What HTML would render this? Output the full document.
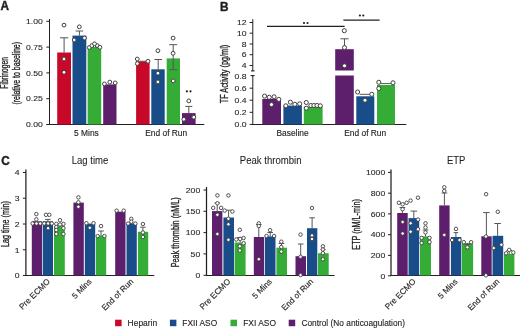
<!DOCTYPE html>
<html><head><meta charset="utf-8"><style>
html,body{margin:0;padding:0;background:#fff;}
body{width:520px;height:328px;overflow:hidden;}
svg{display:block;font-family:"Liberation Sans", sans-serif;will-change:transform;}
text{stroke:#231F20;stroke-width:0.14px;paint-order:stroke;}
</style></head><body>
<svg width="520" height="328" viewBox="0 0 520 328">
<rect width="520" height="328" fill="#fff"/>
<text font-size="11.8" font-weight="bold" transform="translate(0.60 10.40) scale(1.0 1.05)" fill="#231F20" style="stroke-width:0.4px">A</text>
<line x1="49.50" y1="19.00" x2="49.50" y2="125.00" stroke="#231F20" stroke-width="1"/>
<line x1="49.00" y1="124.50" x2="204.30" y2="124.50" stroke="#231F20" stroke-width="1"/>
<line x1="46.30" y1="21.30" x2="49.50" y2="21.30" stroke="#231F20" stroke-width="1"/>
<text font-size="8.0" text-anchor="end" transform="translate(42.80 24.05) scale(1.08 1.0)" fill="#231F20" style="stroke-width:0.1px">1.00</text>
<line x1="46.30" y1="47.10" x2="49.50" y2="47.10" stroke="#231F20" stroke-width="1"/>
<text font-size="8.0" text-anchor="end" transform="translate(42.80 49.85) scale(1.08 1.0)" fill="#231F20" style="stroke-width:0.1px">0.75</text>
<line x1="46.30" y1="72.90" x2="49.50" y2="72.90" stroke="#231F20" stroke-width="1"/>
<text font-size="8.0" text-anchor="end" transform="translate(42.80 75.65) scale(1.08 1.0)" fill="#231F20" style="stroke-width:0.1px">0.50</text>
<line x1="46.30" y1="98.70" x2="49.50" y2="98.70" stroke="#231F20" stroke-width="1"/>
<text font-size="8.0" text-anchor="end" transform="translate(42.80 101.45) scale(1.08 1.0)" fill="#231F20" style="stroke-width:0.1px">0.25</text>
<line x1="46.30" y1="124.50" x2="49.50" y2="124.50" stroke="#231F20" stroke-width="1"/>
<text font-size="8.0" text-anchor="end" transform="translate(42.80 127.25) scale(1.08 1.0)" fill="#231F20" style="stroke-width:0.1px">0.00</text>
<text font-size="9.3" text-anchor="middle" textLength="31.5" lengthAdjust="spacingAndGlyphs" transform="translate(8.30 72.90) rotate(-90) scale(1.0 1.12)" fill="#231F20" style="stroke-width:0.3px">Fibrinogen</text>
<text font-size="9.3" text-anchor="middle" textLength="62.5" lengthAdjust="spacingAndGlyphs" transform="translate(19.70 73.30) rotate(-90) scale(1.0 1.12)" fill="#231F20" style="stroke-width:0.3px">(relative to baseline)</text>
<rect x="57.20" y="52.50" width="13.80" height="72.00" fill="#C70829"/>
<rect x="72.50" y="35.60" width="13.80" height="88.90" fill="#184D89"/>
<rect x="87.60" y="47.00" width="13.60" height="77.50" fill="#35AC35"/>
<rect x="103.20" y="84.40" width="13.30" height="40.10" fill="#5D1F6B"/>
<rect x="136.10" y="61.30" width="13.50" height="63.20" fill="#C70829"/>
<rect x="151.30" y="69.30" width="13.40" height="55.20" fill="#184D89"/>
<rect x="166.70" y="58.40" width="13.30" height="66.10" fill="#35AC35"/>
<rect x="182.00" y="113.10" width="13.60" height="11.40" fill="#5D1F6B"/>
<line x1="64.10" y1="37.80" x2="64.10" y2="52.50" stroke="#555555" stroke-width="1.0"/>
<line x1="60.00" y1="37.80" x2="68.20" y2="37.80" stroke="#555555" stroke-width="1.0"/>
<line x1="79.40" y1="31.00" x2="79.40" y2="35.60" stroke="#555555" stroke-width="1.0"/>
<line x1="75.60" y1="31.00" x2="83.20" y2="31.00" stroke="#555555" stroke-width="1.0"/>
<line x1="158.20" y1="59.50" x2="158.20" y2="69.30" stroke="#555555" stroke-width="1.0"/>
<line x1="154.40" y1="59.50" x2="162.00" y2="59.50" stroke="#555555" stroke-width="1.0"/>
<line x1="139.50" y1="61.20" x2="146.20" y2="61.20" stroke="#555555" stroke-width="0.9"/>
<line x1="173.20" y1="44.70" x2="173.20" y2="69.70" stroke="#555555" stroke-width="1.0"/>
<line x1="169.20" y1="44.70" x2="177.20" y2="44.70" stroke="#555555" stroke-width="1.0"/>
<line x1="169.20" y1="69.70" x2="177.20" y2="69.70" stroke="#555555" stroke-width="1.0"/>
<line x1="188.80" y1="106.40" x2="188.80" y2="113.10" stroke="#555555" stroke-width="1.0"/>
<line x1="185.30" y1="106.40" x2="192.30" y2="106.40" stroke="#555555" stroke-width="1.0"/>
<circle cx="64.00" cy="25.10" r="1.9" fill="#fff" stroke="#404040" stroke-width="1.0"/>
<circle cx="64.00" cy="59.00" r="1.9" fill="#fff" stroke="#404040" stroke-width="1.0"/>
<circle cx="64.00" cy="72.30" r="1.9" fill="#fff" stroke="#404040" stroke-width="1.0"/>
<circle cx="79.30" cy="26.80" r="1.9" fill="#fff" stroke="#404040" stroke-width="1.0"/>
<circle cx="74.20" cy="40.00" r="1.9" fill="#fff" stroke="#404040" stroke-width="1.0"/>
<circle cx="84.50" cy="38.00" r="1.9" fill="#fff" stroke="#404040" stroke-width="1.0"/>
<circle cx="89.30" cy="47.50" r="1.9" fill="#fff" stroke="#404040" stroke-width="1.0"/>
<circle cx="91.90" cy="45.60" r="1.9" fill="#fff" stroke="#404040" stroke-width="1.0"/>
<circle cx="97.20" cy="45.60" r="1.9" fill="#fff" stroke="#404040" stroke-width="1.0"/>
<circle cx="94.50" cy="43.80" r="1.9" fill="#fff" stroke="#404040" stroke-width="1.0"/>
<circle cx="99.90" cy="47.30" r="1.9" fill="#fff" stroke="#404040" stroke-width="1.0"/>
<circle cx="104.40" cy="83.90" r="1.9" fill="#fff" stroke="#404040" stroke-width="1.0"/>
<circle cx="109.80" cy="82.10" r="1.9" fill="#fff" stroke="#404040" stroke-width="1.0"/>
<circle cx="115.20" cy="82.90" r="1.9" fill="#fff" stroke="#404040" stroke-width="1.0"/>
<circle cx="137.30" cy="59.00" r="1.9" fill="#fff" stroke="#404040" stroke-width="1.0"/>
<circle cx="137.30" cy="63.60" r="1.9" fill="#fff" stroke="#404040" stroke-width="1.0"/>
<circle cx="148.00" cy="61.30" r="1.9" fill="#fff" stroke="#404040" stroke-width="1.0"/>
<circle cx="157.90" cy="50.70" r="1.9" fill="#fff" stroke="#404040" stroke-width="1.0"/>
<circle cx="157.90" cy="73.20" r="1.9" fill="#fff" stroke="#404040" stroke-width="1.0"/>
<circle cx="157.90" cy="81.90" r="1.9" fill="#fff" stroke="#404040" stroke-width="1.0"/>
<circle cx="173.10" cy="38.10" r="1.9" fill="#fff" stroke="#404040" stroke-width="1.0"/>
<circle cx="173.10" cy="53.30" r="1.9" fill="#fff" stroke="#404040" stroke-width="1.0"/>
<circle cx="173.20" cy="80.90" r="1.9" fill="#fff" stroke="#404040" stroke-width="1.0"/>
<circle cx="188.80" cy="100.90" r="1.9" fill="#fff" stroke="#404040" stroke-width="1.0"/>
<circle cx="183.80" cy="119.30" r="1.9" fill="#fff" stroke="#404040" stroke-width="1.0"/>
<circle cx="193.80" cy="117.20" r="1.9" fill="#fff" stroke="#404040" stroke-width="1.0"/>
<circle cx="186.90" cy="91.30" r="1.1" fill="#231F20"/>
<circle cx="190.50" cy="91.30" r="1.1" fill="#231F20"/>
<text font-size="8.4" text-anchor="middle" transform="translate(86.40 135.50) scale(1.0 1.06)" fill="#231F20">5 Mins</text>
<text font-size="8.4" text-anchor="middle" transform="translate(166.20 135.50) scale(1.0 1.06)" fill="#231F20">End of Run</text>
<text font-size="11.8" font-weight="bold" transform="translate(220.00 10.60) scale(1.0 1.05)" fill="#231F20" style="stroke-width:0.4px">B</text>
<line x1="252.80" y1="19.20" x2="252.80" y2="71.00" stroke="#231F20" stroke-width="1"/>
<line x1="251.00" y1="70.90" x2="254.60" y2="70.90" stroke="#231F20" stroke-width="1.1"/>
<line x1="252.80" y1="75.30" x2="252.80" y2="125.00" stroke="#231F20" stroke-width="1"/>
<line x1="250.60" y1="75.60" x2="254.60" y2="75.60" stroke="#231F20" stroke-width="1.1"/>
<line x1="252.30" y1="124.50" x2="406.30" y2="124.50" stroke="#231F20" stroke-width="1"/>
<line x1="249.60" y1="22.50" x2="252.80" y2="22.50" stroke="#231F20" stroke-width="1"/>
<text font-size="8.0" text-anchor="end" transform="translate(246.60 25.25) scale(1.08 1.0)" fill="#231F20" style="stroke-width:0.1px">12</text>
<line x1="249.60" y1="33.20" x2="252.80" y2="33.20" stroke="#231F20" stroke-width="1"/>
<text font-size="8.0" text-anchor="end" transform="translate(246.60 35.95) scale(1.08 1.0)" fill="#231F20" style="stroke-width:0.1px">10</text>
<line x1="249.60" y1="44.00" x2="252.80" y2="44.00" stroke="#231F20" stroke-width="1"/>
<text font-size="8.0" text-anchor="end" transform="translate(246.60 46.75) scale(1.08 1.0)" fill="#231F20" style="stroke-width:0.1px">8</text>
<line x1="249.60" y1="54.70" x2="252.80" y2="54.70" stroke="#231F20" stroke-width="1"/>
<text font-size="8.0" text-anchor="end" transform="translate(246.60 57.45) scale(1.08 1.0)" fill="#231F20" style="stroke-width:0.1px">6</text>
<line x1="249.60" y1="65.50" x2="252.80" y2="65.50" stroke="#231F20" stroke-width="1"/>
<text font-size="8.0" text-anchor="end" transform="translate(246.60 68.25) scale(1.08 1.0)" fill="#231F20" style="stroke-width:0.1px">4</text>
<text font-size="8.0" text-anchor="end" transform="translate(246.60 78.85) scale(1.08 1.0)" fill="#231F20" style="stroke-width:0.1px">0.8</text>
<line x1="249.60" y1="88.20" x2="252.80" y2="88.20" stroke="#231F20" stroke-width="1"/>
<text font-size="8.0" text-anchor="end" transform="translate(246.60 90.95) scale(1.08 1.0)" fill="#231F20" style="stroke-width:0.1px">0.6</text>
<line x1="249.60" y1="100.20" x2="252.80" y2="100.20" stroke="#231F20" stroke-width="1"/>
<text font-size="8.0" text-anchor="end" transform="translate(246.60 102.95) scale(1.08 1.0)" fill="#231F20" style="stroke-width:0.1px">0.4</text>
<line x1="249.60" y1="112.30" x2="252.80" y2="112.30" stroke="#231F20" stroke-width="1"/>
<text font-size="8.0" text-anchor="end" transform="translate(246.60 115.05) scale(1.08 1.0)" fill="#231F20" style="stroke-width:0.1px">0.2</text>
<line x1="249.60" y1="124.40" x2="252.80" y2="124.40" stroke="#231F20" stroke-width="1"/>
<text font-size="8.0" text-anchor="end" transform="translate(246.60 127.15) scale(1.08 1.0)" fill="#231F20" style="stroke-width:0.1px">0.0</text>
<text font-size="9.3" text-anchor="middle" textLength="58.5" lengthAdjust="spacingAndGlyphs" transform="translate(228.30 74.00) rotate(-90) scale(1.0 1.12)" fill="#231F20" style="stroke-width:0.3px">TF Activity (pg/ml)</text>
<rect x="262.30" y="98.90" width="18.70" height="25.60" fill="#5D1F6B"/>
<rect x="283.40" y="105.60" width="18.50" height="18.90" fill="#184D89"/>
<rect x="303.80" y="106.80" width="18.80" height="17.70" fill="#35AC35"/>
<rect x="356.30" y="96.30" width="18.00" height="28.20" fill="#184D89"/>
<rect x="377.00" y="85.00" width="18.00" height="39.50" fill="#35AC35"/>
<rect x="335.20" y="49.20" width="18.60" height="21.30" fill="#5D1F6B"/>
<rect x="335.20" y="75.50" width="18.60" height="49.00" fill="#5D1F6B"/>
<line x1="344.50" y1="38.80" x2="344.50" y2="49.20" stroke="#555555" stroke-width="1.0"/>
<line x1="340.40" y1="38.80" x2="348.60" y2="38.80" stroke="#555555" stroke-width="1.0"/>
<line x1="359.60" y1="94.30" x2="370.50" y2="94.30" stroke="#555555" stroke-width="1.0"/>
<line x1="380.50" y1="83.60" x2="391.50" y2="83.60" stroke="#555555" stroke-width="1.0"/>
<circle cx="264.60" cy="96.10" r="2.05" fill="#fff" stroke="#404040" stroke-width="1.0"/>
<circle cx="269.20" cy="97.30" r="2.05" fill="#fff" stroke="#404040" stroke-width="1.0"/>
<circle cx="274.10" cy="96.80" r="2.05" fill="#fff" stroke="#404040" stroke-width="1.0"/>
<circle cx="278.80" cy="99.40" r="2.05" fill="#fff" stroke="#404040" stroke-width="1.0"/>
<circle cx="271.50" cy="104.60" r="2.05" fill="#fff" stroke="#404040" stroke-width="1.0"/>
<circle cx="285.80" cy="105.80" r="2.05" fill="#fff" stroke="#404040" stroke-width="1.0"/>
<circle cx="290.40" cy="102.20" r="2.05" fill="#fff" stroke="#404040" stroke-width="1.0"/>
<circle cx="294.80" cy="104.30" r="2.05" fill="#fff" stroke="#404040" stroke-width="1.0"/>
<circle cx="299.70" cy="103.80" r="2.05" fill="#fff" stroke="#404040" stroke-width="1.0"/>
<circle cx="306.30" cy="102.50" r="2.05" fill="#fff" stroke="#404040" stroke-width="1.0"/>
<circle cx="306.30" cy="108.20" r="2.05" fill="#fff" stroke="#404040" stroke-width="1.0"/>
<circle cx="310.80" cy="105.50" r="2.05" fill="#fff" stroke="#404040" stroke-width="1.0"/>
<circle cx="313.90" cy="105.50" r="2.05" fill="#fff" stroke="#404040" stroke-width="1.0"/>
<circle cx="317.00" cy="105.50" r="2.05" fill="#fff" stroke="#404040" stroke-width="1.0"/>
<circle cx="320.30" cy="105.80" r="2.05" fill="#fff" stroke="#404040" stroke-width="1.0"/>
<circle cx="344.30" cy="30.70" r="2.05" fill="#fff" stroke="#404040" stroke-width="1.0"/>
<circle cx="344.50" cy="47.60" r="2.05" fill="#fff" stroke="#404040" stroke-width="1.0"/>
<circle cx="344.50" cy="65.80" r="2.05" fill="#fff" stroke="#404040" stroke-width="1.0"/>
<circle cx="357.60" cy="92.00" r="2.05" fill="#fff" stroke="#404040" stroke-width="1.0"/>
<circle cx="365.00" cy="100.20" r="2.05" fill="#fff" stroke="#404040" stroke-width="1.0"/>
<circle cx="371.80" cy="94.30" r="2.05" fill="#fff" stroke="#404040" stroke-width="1.0"/>
<circle cx="378.80" cy="82.30" r="2.05" fill="#fff" stroke="#404040" stroke-width="1.0"/>
<circle cx="378.80" cy="88.50" r="2.05" fill="#fff" stroke="#404040" stroke-width="1.0"/>
<circle cx="393.00" cy="82.80" r="2.05" fill="#fff" stroke="#404040" stroke-width="1.0"/>
<line x1="267.00" y1="26.40" x2="344.60" y2="26.40" stroke="#231F20" stroke-width="1.3"/>
<circle cx="304.00" cy="23.00" r="1.1" fill="#231F20"/>
<circle cx="307.50" cy="23.00" r="1.1" fill="#231F20"/>
<line x1="343.40" y1="20.10" x2="379.60" y2="20.10" stroke="#231F20" stroke-width="1.3"/>
<circle cx="359.90" cy="15.50" r="1.1" fill="#231F20"/>
<circle cx="363.30" cy="15.50" r="1.1" fill="#231F20"/>
<text font-size="8.4" text-anchor="middle" transform="translate(292.60 135.50) scale(1.0 1.06)" fill="#231F20">Baseline</text>
<text font-size="8.4" text-anchor="middle" transform="translate(365.20 135.50) scale(1.0 1.06)" fill="#231F20">End of Run</text>
<text font-size="11.8" font-weight="bold" transform="translate(1.30 164.60) scale(1.0 1.07)" fill="#231F20" style="stroke-width:0.4px">C</text>
<text font-size="9.6" text-anchor="middle" textLength="36.6" lengthAdjust="spacingAndGlyphs" transform="translate(90.00 163.70) scale(1.0 1.14)" fill="#231F20" style="stroke-width:0.08px">Lag time</text>
<text font-size="9.6" text-anchor="middle" textLength="61.6" lengthAdjust="spacingAndGlyphs" transform="translate(270.65 163.70) scale(1.0 1.1)" fill="#231F20" style="stroke-width:0.08px">Peak thrombin</text>
<text font-size="9.6" text-anchor="middle" textLength="18.4" lengthAdjust="spacingAndGlyphs" transform="translate(456.10 163.70) scale(1.0 1.16)" fill="#231F20" style="stroke-width:0.08px">ETP</text>
<line x1="25.90" y1="169.60" x2="25.90" y2="276.10" stroke="#231F20" stroke-width="1.25"/>
<line x1="25.30" y1="275.50" x2="154.30" y2="275.50" stroke="#231F20" stroke-width="1.1"/>
<line x1="22.90" y1="172.50" x2="25.90" y2="172.50" stroke="#231F20" stroke-width="1"/>
<text font-size="8.0" text-anchor="end" transform="translate(19.50 175.25) scale(1.08 1.0)" fill="#231F20" style="stroke-width:0.1px">4</text>
<line x1="22.90" y1="198.20" x2="25.90" y2="198.20" stroke="#231F20" stroke-width="1"/>
<text font-size="8.0" text-anchor="end" transform="translate(19.50 200.95) scale(1.08 1.0)" fill="#231F20" style="stroke-width:0.1px">3</text>
<line x1="22.90" y1="224.00" x2="25.90" y2="224.00" stroke="#231F20" stroke-width="1"/>
<text font-size="8.0" text-anchor="end" transform="translate(19.50 226.75) scale(1.08 1.0)" fill="#231F20" style="stroke-width:0.1px">2</text>
<line x1="22.90" y1="249.80" x2="25.90" y2="249.80" stroke="#231F20" stroke-width="1"/>
<text font-size="8.0" text-anchor="end" transform="translate(19.50 252.55) scale(1.08 1.0)" fill="#231F20" style="stroke-width:0.1px">1</text>
<line x1="22.90" y1="275.50" x2="25.90" y2="275.50" stroke="#231F20" stroke-width="1"/>
<text font-size="8.0" text-anchor="end" transform="translate(19.50 278.25) scale(1.08 1.0)" fill="#231F20" style="stroke-width:0.1px">0</text>
<text font-size="9.3" text-anchor="middle" textLength="46" lengthAdjust="spacingAndGlyphs" transform="translate(8.80 224.00) rotate(-90) scale(1.0 1.12)" fill="#231F20" style="stroke-width:0.3px">Lag time (min)</text>
<rect x="31.80" y="221.30" width="10.20" height="54.20" fill="#5D1F6B"/>
<rect x="42.70" y="221.30" width="10.30" height="54.20" fill="#184D89"/>
<rect x="54.00" y="226.20" width="10.80" height="49.30" fill="#35AC35"/>
<rect x="73.40" y="202.60" width="10.40" height="72.90" fill="#5D1F6B"/>
<rect x="84.80" y="223.60" width="10.40" height="51.90" fill="#184D89"/>
<rect x="96.00" y="235.30" width="10.20" height="40.20" fill="#35AC35"/>
<rect x="115.20" y="211.70" width="10.30" height="63.80" fill="#5D1F6B"/>
<rect x="126.50" y="223.30" width="10.30" height="52.20" fill="#184D89"/>
<rect x="137.90" y="231.80" width="10.30" height="43.70" fill="#35AC35"/>
<line x1="47.90" y1="219.40" x2="47.90" y2="221.30" stroke="#555555" stroke-width="1.0"/>
<line x1="45.10" y1="219.40" x2="50.70" y2="219.40" stroke="#555555" stroke-width="1.0"/>
<line x1="101.00" y1="231.00" x2="101.00" y2="235.30" stroke="#555555" stroke-width="1.0"/>
<line x1="98.20" y1="231.00" x2="103.80" y2="231.00" stroke="#555555" stroke-width="1.0"/>
<line x1="142.90" y1="227.20" x2="142.90" y2="231.80" stroke="#555555" stroke-width="1.0"/>
<line x1="140.10" y1="227.20" x2="145.70" y2="227.20" stroke="#555555" stroke-width="1.0"/>
<circle cx="36.30" cy="214.10" r="1.75" fill="#fff" stroke="#404040" stroke-width="0.9"/>
<circle cx="36.30" cy="219.40" r="1.75" fill="#fff" stroke="#404040" stroke-width="0.9"/>
<circle cx="32.60" cy="223.50" r="1.75" fill="#fff" stroke="#404040" stroke-width="0.9"/>
<circle cx="36.50" cy="223.50" r="1.75" fill="#fff" stroke="#404040" stroke-width="0.9"/>
<circle cx="40.20" cy="223.50" r="1.75" fill="#fff" stroke="#404040" stroke-width="0.9"/>
<circle cx="46.00" cy="214.80" r="1.75" fill="#fff" stroke="#404040" stroke-width="0.9"/>
<circle cx="49.30" cy="214.80" r="1.75" fill="#fff" stroke="#404040" stroke-width="0.9"/>
<circle cx="44.20" cy="223.50" r="1.75" fill="#fff" stroke="#404040" stroke-width="0.9"/>
<circle cx="48.10" cy="223.50" r="1.75" fill="#fff" stroke="#404040" stroke-width="0.9"/>
<circle cx="51.80" cy="223.50" r="1.75" fill="#fff" stroke="#404040" stroke-width="0.9"/>
<circle cx="48.10" cy="228.20" r="1.75" fill="#fff" stroke="#404040" stroke-width="0.9"/>
<circle cx="60.00" cy="220.20" r="1.75" fill="#fff" stroke="#404040" stroke-width="0.9"/>
<circle cx="56.30" cy="223.90" r="1.75" fill="#fff" stroke="#404040" stroke-width="0.9"/>
<circle cx="63.40" cy="223.90" r="1.75" fill="#fff" stroke="#404040" stroke-width="0.9"/>
<circle cx="60.00" cy="224.50" r="1.75" fill="#fff" stroke="#404040" stroke-width="0.9"/>
<circle cx="56.30" cy="227.00" r="1.75" fill="#fff" stroke="#404040" stroke-width="0.9"/>
<circle cx="63.40" cy="228.20" r="1.75" fill="#fff" stroke="#404040" stroke-width="0.9"/>
<circle cx="56.30" cy="230.00" r="1.75" fill="#fff" stroke="#404040" stroke-width="0.9"/>
<circle cx="56.30" cy="234.00" r="1.75" fill="#fff" stroke="#404040" stroke-width="0.9"/>
<circle cx="63.40" cy="234.00" r="1.75" fill="#fff" stroke="#404040" stroke-width="0.9"/>
<circle cx="78.40" cy="197.40" r="1.75" fill="#fff" stroke="#404040" stroke-width="0.9"/>
<circle cx="78.40" cy="202.30" r="1.75" fill="#fff" stroke="#404040" stroke-width="0.9"/>
<circle cx="78.40" cy="206.80" r="1.75" fill="#fff" stroke="#404040" stroke-width="0.9"/>
<circle cx="86.40" cy="223.20" r="1.75" fill="#fff" stroke="#404040" stroke-width="0.9"/>
<circle cx="89.80" cy="227.80" r="1.75" fill="#fff" stroke="#404040" stroke-width="0.9"/>
<circle cx="93.50" cy="223.20" r="1.75" fill="#fff" stroke="#404040" stroke-width="0.9"/>
<circle cx="101.00" cy="226.10" r="1.75" fill="#fff" stroke="#404040" stroke-width="0.9"/>
<circle cx="97.70" cy="236.10" r="1.75" fill="#fff" stroke="#404040" stroke-width="0.9"/>
<circle cx="104.40" cy="236.10" r="1.75" fill="#fff" stroke="#404040" stroke-width="0.9"/>
<circle cx="116.60" cy="210.70" r="1.75" fill="#fff" stroke="#404040" stroke-width="0.9"/>
<circle cx="123.70" cy="210.70" r="1.75" fill="#fff" stroke="#404040" stroke-width="0.9"/>
<circle cx="128.10" cy="223.60" r="1.75" fill="#fff" stroke="#404040" stroke-width="0.9"/>
<circle cx="131.30" cy="218.90" r="1.75" fill="#fff" stroke="#404040" stroke-width="0.9"/>
<circle cx="131.30" cy="221.70" r="1.75" fill="#fff" stroke="#404040" stroke-width="0.9"/>
<circle cx="135.40" cy="223.60" r="1.75" fill="#fff" stroke="#404040" stroke-width="0.9"/>
<circle cx="142.90" cy="224.00" r="1.75" fill="#fff" stroke="#404040" stroke-width="0.9"/>
<circle cx="142.90" cy="232.50" r="1.75" fill="#fff" stroke="#404040" stroke-width="0.9"/>
<circle cx="142.90" cy="237.00" r="1.75" fill="#fff" stroke="#404040" stroke-width="0.9"/>
<text font-size="8.2" text-anchor="end" transform="translate(50.50 282.10) rotate(-45)" fill="#231F20" style="stroke-width:0.15px">Pre ECMO</text>
<text font-size="8.2" text-anchor="end" transform="translate(92.20 282.10) rotate(-45)" fill="#231F20" style="stroke-width:0.15px">5 Mins</text>
<text font-size="8.2" text-anchor="end" transform="translate(133.90 282.10) rotate(-45)" fill="#231F20" style="stroke-width:0.15px">End of Run</text>
<line x1="206.50" y1="187.10" x2="206.50" y2="276.10" stroke="#231F20" stroke-width="1.25"/>
<line x1="205.90" y1="275.50" x2="334.50" y2="275.50" stroke="#231F20" stroke-width="1.1"/>
<line x1="203.50" y1="190.00" x2="206.50" y2="190.00" stroke="#231F20" stroke-width="1"/>
<text font-size="8.0" text-anchor="end" transform="translate(200.20 192.75) scale(1.08 1.0)" fill="#231F20" style="stroke-width:0.1px">200</text>
<line x1="203.50" y1="211.30" x2="206.50" y2="211.30" stroke="#231F20" stroke-width="1"/>
<text font-size="8.0" text-anchor="end" transform="translate(200.20 214.05) scale(1.08 1.0)" fill="#231F20" style="stroke-width:0.1px">150</text>
<line x1="203.50" y1="232.60" x2="206.50" y2="232.60" stroke="#231F20" stroke-width="1"/>
<text font-size="8.0" text-anchor="end" transform="translate(200.20 235.35) scale(1.08 1.0)" fill="#231F20" style="stroke-width:0.1px">100</text>
<line x1="203.50" y1="253.90" x2="206.50" y2="253.90" stroke="#231F20" stroke-width="1"/>
<text font-size="8.0" text-anchor="end" transform="translate(200.20 256.65) scale(1.08 1.0)" fill="#231F20" style="stroke-width:0.1px">50</text>
<line x1="203.50" y1="275.30" x2="206.50" y2="275.30" stroke="#231F20" stroke-width="1"/>
<text font-size="8.0" text-anchor="end" transform="translate(200.20 278.05) scale(1.08 1.0)" fill="#231F20" style="stroke-width:0.1px">0</text>
<text font-size="9.3" text-anchor="middle" textLength="70" lengthAdjust="spacingAndGlyphs" transform="translate(178.70 232.30) rotate(-90) scale(1.0 1.12)" fill="#231F20" style="stroke-width:0.3px">Peak thrombin (nM/L)</text>
<rect x="212.00" y="211.10" width="10.40" height="64.40" fill="#5D1F6B"/>
<rect x="223.40" y="217.50" width="10.60" height="58.00" fill="#184D89"/>
<rect x="234.60" y="242.50" width="11.00" height="33.00" fill="#35AC35"/>
<rect x="253.80" y="237.00" width="10.40" height="38.50" fill="#5D1F6B"/>
<rect x="265.00" y="236.40" width="10.50" height="39.10" fill="#184D89"/>
<rect x="276.40" y="247.70" width="10.60" height="27.80" fill="#35AC35"/>
<rect x="295.50" y="256.20" width="10.50" height="19.30" fill="#5D1F6B"/>
<rect x="307.00" y="228.20" width="10.30" height="47.30" fill="#184D89"/>
<rect x="318.00" y="253.20" width="10.70" height="22.30" fill="#35AC35"/>
<line x1="217.20" y1="203.00" x2="217.20" y2="211.10" stroke="#555555" stroke-width="1.0"/>
<line x1="214.40" y1="203.00" x2="220.00" y2="203.00" stroke="#555555" stroke-width="1.0"/>
<line x1="228.60" y1="210.20" x2="228.60" y2="217.50" stroke="#555555" stroke-width="1.0"/>
<line x1="225.80" y1="210.20" x2="231.40" y2="210.20" stroke="#555555" stroke-width="1.0"/>
<line x1="240.10" y1="237.50" x2="240.10" y2="242.50" stroke="#555555" stroke-width="1.0"/>
<line x1="237.30" y1="237.50" x2="242.90" y2="237.50" stroke="#555555" stroke-width="1.0"/>
<line x1="258.80" y1="224.50" x2="258.80" y2="237.00" stroke="#555555" stroke-width="1.0"/>
<line x1="256.00" y1="224.50" x2="261.60" y2="224.50" stroke="#555555" stroke-width="1.0"/>
<line x1="270.20" y1="232.50" x2="270.20" y2="236.40" stroke="#555555" stroke-width="1.0"/>
<line x1="267.40" y1="232.50" x2="273.00" y2="232.50" stroke="#555555" stroke-width="1.0"/>
<line x1="281.50" y1="243.50" x2="281.50" y2="247.70" stroke="#555555" stroke-width="1.0"/>
<line x1="278.70" y1="243.50" x2="284.30" y2="243.50" stroke="#555555" stroke-width="1.0"/>
<line x1="300.70" y1="244.00" x2="300.70" y2="256.20" stroke="#555555" stroke-width="1.0"/>
<line x1="297.90" y1="244.00" x2="303.50" y2="244.00" stroke="#555555" stroke-width="1.0"/>
<line x1="312.10" y1="217.80" x2="312.10" y2="228.20" stroke="#555555" stroke-width="1.0"/>
<line x1="309.30" y1="217.80" x2="314.90" y2="217.80" stroke="#555555" stroke-width="1.0"/>
<line x1="323.00" y1="249.50" x2="323.00" y2="253.20" stroke="#555555" stroke-width="1.0"/>
<line x1="320.50" y1="249.50" x2="325.50" y2="249.50" stroke="#555555" stroke-width="1.0"/>
<circle cx="217.40" cy="195.40" r="1.75" fill="#fff" stroke="#404040" stroke-width="0.9"/>
<circle cx="217.40" cy="203.30" r="1.75" fill="#fff" stroke="#404040" stroke-width="0.9"/>
<circle cx="213.20" cy="207.90" r="1.75" fill="#fff" stroke="#404040" stroke-width="0.9"/>
<circle cx="221.10" cy="207.90" r="1.75" fill="#fff" stroke="#404040" stroke-width="0.9"/>
<circle cx="217.40" cy="214.80" r="1.75" fill="#fff" stroke="#404040" stroke-width="0.9"/>
<circle cx="217.40" cy="234.00" r="1.75" fill="#fff" stroke="#404040" stroke-width="0.9"/>
<circle cx="228.40" cy="195.40" r="1.75" fill="#fff" stroke="#404040" stroke-width="0.9"/>
<circle cx="224.70" cy="210.60" r="1.75" fill="#fff" stroke="#404040" stroke-width="0.9"/>
<circle cx="232.40" cy="211.50" r="1.75" fill="#fff" stroke="#404040" stroke-width="0.9"/>
<circle cx="228.40" cy="218.80" r="1.75" fill="#fff" stroke="#404040" stroke-width="0.9"/>
<circle cx="228.40" cy="224.30" r="1.75" fill="#fff" stroke="#404040" stroke-width="0.9"/>
<circle cx="228.40" cy="239.80" r="1.75" fill="#fff" stroke="#404040" stroke-width="0.9"/>
<circle cx="239.80" cy="229.80" r="1.75" fill="#fff" stroke="#404040" stroke-width="0.9"/>
<circle cx="236.30" cy="239.50" r="1.75" fill="#fff" stroke="#404040" stroke-width="0.9"/>
<circle cx="240.20" cy="238.90" r="1.75" fill="#fff" stroke="#404040" stroke-width="0.9"/>
<circle cx="243.60" cy="238.00" r="1.75" fill="#fff" stroke="#404040" stroke-width="0.9"/>
<circle cx="243.60" cy="243.20" r="1.75" fill="#fff" stroke="#404040" stroke-width="0.9"/>
<circle cx="239.80" cy="246.20" r="1.75" fill="#fff" stroke="#404040" stroke-width="0.9"/>
<circle cx="239.80" cy="250.50" r="1.75" fill="#fff" stroke="#404040" stroke-width="0.9"/>
<circle cx="258.80" cy="223.40" r="1.75" fill="#fff" stroke="#404040" stroke-width="0.9"/>
<circle cx="258.80" cy="226.00" r="1.75" fill="#fff" stroke="#404040" stroke-width="0.9"/>
<circle cx="258.80" cy="259.20" r="1.75" fill="#fff" stroke="#404040" stroke-width="0.9"/>
<circle cx="270.10" cy="230.20" r="1.75" fill="#fff" stroke="#404040" stroke-width="0.9"/>
<circle cx="266.50" cy="236.00" r="1.75" fill="#fff" stroke="#404040" stroke-width="0.9"/>
<circle cx="274.10" cy="236.00" r="1.75" fill="#fff" stroke="#404040" stroke-width="0.9"/>
<circle cx="281.30" cy="241.70" r="1.75" fill="#fff" stroke="#404040" stroke-width="0.9"/>
<circle cx="281.30" cy="247.00" r="1.75" fill="#fff" stroke="#404040" stroke-width="0.9"/>
<circle cx="281.30" cy="251.60" r="1.75" fill="#fff" stroke="#404040" stroke-width="0.9"/>
<circle cx="300.50" cy="234.60" r="1.75" fill="#fff" stroke="#404040" stroke-width="0.9"/>
<circle cx="300.50" cy="256.80" r="1.75" fill="#fff" stroke="#404040" stroke-width="0.9"/>
<circle cx="300.50" cy="275.10" r="1.75" fill="#fff" stroke="#404040" stroke-width="0.9"/>
<circle cx="312.00" cy="208.00" r="1.75" fill="#fff" stroke="#404040" stroke-width="0.9"/>
<circle cx="312.00" cy="235.40" r="1.75" fill="#fff" stroke="#404040" stroke-width="0.9"/>
<circle cx="312.00" cy="239.00" r="1.75" fill="#fff" stroke="#404040" stroke-width="0.9"/>
<circle cx="322.90" cy="246.30" r="1.75" fill="#fff" stroke="#404040" stroke-width="0.9"/>
<circle cx="322.90" cy="249.50" r="1.75" fill="#fff" stroke="#404040" stroke-width="0.9"/>
<circle cx="322.90" cy="253.20" r="1.75" fill="#fff" stroke="#404040" stroke-width="0.9"/>
<circle cx="322.90" cy="259.30" r="1.75" fill="#fff" stroke="#404040" stroke-width="0.9"/>
<text font-size="8.2" text-anchor="end" transform="translate(230.90 282.10) rotate(-45)" fill="#231F20" style="stroke-width:0.15px">Pre ECMO</text>
<text font-size="8.2" text-anchor="end" transform="translate(272.50 282.10) rotate(-45)" fill="#231F20" style="stroke-width:0.15px">5 Mins</text>
<text font-size="8.2" text-anchor="end" transform="translate(313.80 282.10) rotate(-45)" fill="#231F20" style="stroke-width:0.15px">End of Run</text>
<line x1="391.00" y1="169.50" x2="391.00" y2="276.10" stroke="#231F20" stroke-width="1.25"/>
<line x1="390.40" y1="275.50" x2="520.50" y2="275.50" stroke="#231F20" stroke-width="1.1"/>
<line x1="388.00" y1="172.40" x2="391.00" y2="172.40" stroke="#231F20" stroke-width="1"/>
<text font-size="8.0" text-anchor="end" transform="translate(385.20 175.15) scale(1.08 1.0)" fill="#231F20" style="stroke-width:0.1px">1000</text>
<line x1="388.00" y1="193.20" x2="391.00" y2="193.20" stroke="#231F20" stroke-width="1"/>
<text font-size="8.0" text-anchor="end" transform="translate(385.20 195.95) scale(1.08 1.0)" fill="#231F20" style="stroke-width:0.1px">800</text>
<line x1="388.00" y1="213.90" x2="391.00" y2="213.90" stroke="#231F20" stroke-width="1"/>
<text font-size="8.0" text-anchor="end" transform="translate(385.20 216.65) scale(1.08 1.0)" fill="#231F20" style="stroke-width:0.1px">600</text>
<line x1="388.00" y1="234.70" x2="391.00" y2="234.70" stroke="#231F20" stroke-width="1"/>
<text font-size="8.0" text-anchor="end" transform="translate(385.20 237.45) scale(1.08 1.0)" fill="#231F20" style="stroke-width:0.1px">400</text>
<line x1="388.00" y1="255.40" x2="391.00" y2="255.40" stroke="#231F20" stroke-width="1"/>
<text font-size="8.0" text-anchor="end" transform="translate(385.20 258.15) scale(1.08 1.0)" fill="#231F20" style="stroke-width:0.1px">200</text>
<line x1="388.00" y1="275.80" x2="391.00" y2="275.80" stroke="#231F20" stroke-width="1"/>
<text font-size="8.0" text-anchor="end" transform="translate(385.20 278.55) scale(1.08 1.0)" fill="#231F20" style="stroke-width:0.1px">0</text>
<text font-size="9.3" text-anchor="middle" textLength="50.5" lengthAdjust="spacingAndGlyphs" transform="translate(359.80 224.40) rotate(-90) scale(1.0 1.12)" fill="#231F20" style="stroke-width:0.3px">ETP (nM/L-min)</text>
<rect x="397.20" y="213.00" width="10.50" height="62.50" fill="#5D1F6B"/>
<rect x="408.50" y="218.10" width="10.70" height="57.40" fill="#184D89"/>
<rect x="420.00" y="236.30" width="11.00" height="39.20" fill="#35AC35"/>
<rect x="439.20" y="205.40" width="10.40" height="70.10" fill="#5D1F6B"/>
<rect x="450.90" y="237.00" width="10.40" height="38.50" fill="#184D89"/>
<rect x="461.90" y="243.00" width="11.20" height="32.50" fill="#35AC35"/>
<rect x="481.30" y="236.30" width="10.40" height="39.20" fill="#5D1F6B"/>
<rect x="492.50" y="235.80" width="10.70" height="39.70" fill="#184D89"/>
<rect x="504.00" y="254.00" width="10.40" height="21.50" fill="#35AC35"/>
<line x1="402.40" y1="207.50" x2="402.40" y2="213.00" stroke="#555555" stroke-width="1.0"/>
<line x1="399.60" y1="207.50" x2="405.20" y2="207.50" stroke="#555555" stroke-width="1.0"/>
<line x1="413.80" y1="211.10" x2="413.80" y2="218.10" stroke="#555555" stroke-width="1.0"/>
<line x1="410.50" y1="211.10" x2="417.10" y2="211.10" stroke="#555555" stroke-width="1.0"/>
<line x1="425.50" y1="230.00" x2="425.50" y2="236.30" stroke="#555555" stroke-width="1.0"/>
<line x1="422.70" y1="230.00" x2="428.30" y2="230.00" stroke="#555555" stroke-width="1.0"/>
<line x1="444.40" y1="193.00" x2="444.40" y2="205.40" stroke="#555555" stroke-width="1.0"/>
<line x1="441.60" y1="193.00" x2="447.20" y2="193.00" stroke="#555555" stroke-width="1.0"/>
<line x1="455.90" y1="232.60" x2="455.90" y2="237.00" stroke="#555555" stroke-width="1.0"/>
<line x1="453.60" y1="232.60" x2="458.20" y2="232.60" stroke="#555555" stroke-width="1.0"/>
<line x1="467.40" y1="244.50" x2="467.40" y2="243.00" stroke="#555555" stroke-width="1.0"/>
<line x1="464.90" y1="244.50" x2="469.90" y2="244.50" stroke="#555555" stroke-width="1.0"/>
<line x1="486.40" y1="212.60" x2="486.40" y2="236.30" stroke="#555555" stroke-width="1.0"/>
<line x1="483.10" y1="212.60" x2="489.70" y2="212.60" stroke="#555555" stroke-width="1.0"/>
<line x1="497.60" y1="223.50" x2="497.60" y2="235.80" stroke="#555555" stroke-width="1.0"/>
<line x1="494.30" y1="223.50" x2="500.90" y2="223.50" stroke="#555555" stroke-width="1.0"/>
<line x1="509.20" y1="250.50" x2="509.20" y2="254.00" stroke="#555555" stroke-width="1.0"/>
<line x1="506.40" y1="250.50" x2="512.00" y2="250.50" stroke="#555555" stroke-width="1.0"/>
<circle cx="398.90" cy="202.80" r="1.75" fill="#fff" stroke="#404040" stroke-width="0.9"/>
<circle cx="402.60" cy="204.30" r="1.75" fill="#fff" stroke="#404040" stroke-width="0.9"/>
<circle cx="406.60" cy="202.80" r="1.75" fill="#fff" stroke="#404040" stroke-width="0.9"/>
<circle cx="410.60" cy="200.60" r="1.75" fill="#fff" stroke="#404040" stroke-width="0.9"/>
<circle cx="402.60" cy="209.20" r="1.75" fill="#fff" stroke="#404040" stroke-width="0.9"/>
<circle cx="402.60" cy="222.00" r="1.75" fill="#fff" stroke="#404040" stroke-width="0.9"/>
<circle cx="402.60" cy="233.50" r="1.75" fill="#fff" stroke="#404040" stroke-width="0.9"/>
<circle cx="418.00" cy="197.70" r="1.75" fill="#fff" stroke="#404040" stroke-width="0.9"/>
<circle cx="410.60" cy="223.30" r="1.75" fill="#fff" stroke="#404040" stroke-width="0.9"/>
<circle cx="418.00" cy="219.60" r="1.75" fill="#fff" stroke="#404040" stroke-width="0.9"/>
<circle cx="418.00" cy="229.30" r="1.75" fill="#fff" stroke="#404040" stroke-width="0.9"/>
<circle cx="410.60" cy="231.70" r="1.75" fill="#fff" stroke="#404040" stroke-width="0.9"/>
<circle cx="425.50" cy="223.30" r="1.75" fill="#fff" stroke="#404040" stroke-width="0.9"/>
<circle cx="425.50" cy="227.50" r="1.75" fill="#fff" stroke="#404040" stroke-width="0.9"/>
<circle cx="425.50" cy="232.40" r="1.75" fill="#fff" stroke="#404040" stroke-width="0.9"/>
<circle cx="421.60" cy="237.90" r="1.75" fill="#fff" stroke="#404040" stroke-width="0.9"/>
<circle cx="429.50" cy="237.90" r="1.75" fill="#fff" stroke="#404040" stroke-width="0.9"/>
<circle cx="421.60" cy="243.00" r="1.75" fill="#fff" stroke="#404040" stroke-width="0.9"/>
<circle cx="429.50" cy="242.10" r="1.75" fill="#fff" stroke="#404040" stroke-width="0.9"/>
<circle cx="444.30" cy="187.30" r="1.75" fill="#fff" stroke="#404040" stroke-width="0.9"/>
<circle cx="444.30" cy="191.00" r="1.75" fill="#fff" stroke="#404040" stroke-width="0.9"/>
<circle cx="444.30" cy="234.90" r="1.75" fill="#fff" stroke="#404040" stroke-width="0.9"/>
<circle cx="456.00" cy="228.90" r="1.75" fill="#fff" stroke="#404040" stroke-width="0.9"/>
<circle cx="452.10" cy="240.00" r="1.75" fill="#fff" stroke="#404040" stroke-width="0.9"/>
<circle cx="459.50" cy="240.00" r="1.75" fill="#fff" stroke="#404040" stroke-width="0.9"/>
<circle cx="463.80" cy="242.20" r="1.75" fill="#fff" stroke="#404040" stroke-width="0.9"/>
<circle cx="467.40" cy="247.30" r="1.75" fill="#fff" stroke="#404040" stroke-width="0.9"/>
<circle cx="471.10" cy="242.20" r="1.75" fill="#fff" stroke="#404040" stroke-width="0.9"/>
<circle cx="486.10" cy="194.20" r="1.75" fill="#fff" stroke="#404040" stroke-width="0.9"/>
<circle cx="485.90" cy="236.50" r="1.75" fill="#fff" stroke="#404040" stroke-width="0.9"/>
<circle cx="485.90" cy="275.30" r="1.75" fill="#fff" stroke="#404040" stroke-width="0.9"/>
<circle cx="497.80" cy="211.80" r="1.75" fill="#fff" stroke="#404040" stroke-width="0.9"/>
<circle cx="493.70" cy="248.10" r="1.75" fill="#fff" stroke="#404040" stroke-width="0.9"/>
<circle cx="501.40" cy="244.70" r="1.75" fill="#fff" stroke="#404040" stroke-width="0.9"/>
<circle cx="506.10" cy="253.30" r="1.75" fill="#fff" stroke="#404040" stroke-width="0.9"/>
<circle cx="509.20" cy="249.90" r="1.75" fill="#fff" stroke="#404040" stroke-width="0.9"/>
<circle cx="513.30" cy="252.50" r="1.75" fill="#fff" stroke="#404040" stroke-width="0.9"/>
<text font-size="8.2" text-anchor="end" transform="translate(416.30 282.10) rotate(-45)" fill="#231F20" style="stroke-width:0.15px">Pre ECMO</text>
<text font-size="8.2" text-anchor="end" transform="translate(458.20 282.10) rotate(-45)" fill="#231F20" style="stroke-width:0.15px">5 Mins</text>
<text font-size="8.2" text-anchor="end" transform="translate(499.90 282.10) rotate(-45)" fill="#231F20" style="stroke-width:0.15px">End of Run</text>
<rect x="115.10" y="319.70" width="6.50" height="6.50" fill="#C70829"/>
<text font-size="8.2" textLength="29.6" lengthAdjust="spacingAndGlyphs" transform="translate(127.60 325.60) scale(1.0 1.1)" fill="#231F20" style="stroke-width:0.12px">Heparin</text>
<rect x="169.90" y="319.70" width="6.50" height="6.50" fill="#184D89"/>
<text font-size="8.2" textLength="34.9" lengthAdjust="spacingAndGlyphs" transform="translate(182.30 325.60) scale(1.0 1.1)" fill="#231F20" style="stroke-width:0.12px">FXII ASO</text>
<rect x="230.50" y="319.70" width="6.50" height="6.50" fill="#35AC35"/>
<text font-size="8.2" textLength="32.8" lengthAdjust="spacingAndGlyphs" transform="translate(243.20 325.60) scale(1.0 1.1)" fill="#231F20" style="stroke-width:0.12px">FXI ASO</text>
<rect x="288.70" y="319.70" width="6.50" height="6.50" fill="#5D1F6B"/>
<text font-size="8.2" textLength="103.6" lengthAdjust="spacingAndGlyphs" transform="translate(301.40 325.60) scale(1.0 1.1)" fill="#231F20" style="stroke-width:0.12px">Control (No anticoagulation)</text>
</svg>
</body></html>
